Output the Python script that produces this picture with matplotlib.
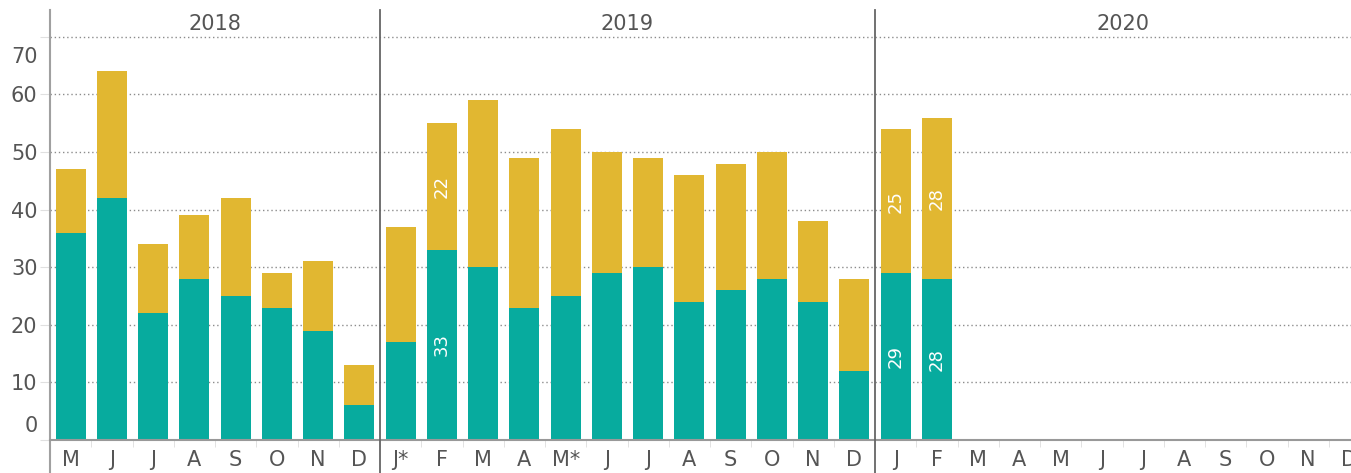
import numpy as np
import matplotlib
matplotlib.use("Agg")
import matplotlib.pyplot as plt
from matplotlib.transforms import blended_transform_factory, ScaledTranslation

# data
years = ["2018", "2019", "2020"]
months_2018 = ["M", "J", "J", "A", "S", "O", "N", "D"]
months_2019 = ["J*", "F", "M", "A", "M*", "J", "J", "A", "S", "O", "N", "D"]
months_2020 = ["J", "F", "M", "A", "M", "J", "J", "A", "S", "O", "N", "D"]

teal_2018 = [36, 42, 22, 28, 25, 23, 19, 6]
gold_2018 = [11, 22, 12, 11, 17, 6, 12, 7]
teal_2019 = [17, 33, 30, 23, 25, 29, 30, 24, 26, 28, 24, 12]
gold_2019 = [20, 22, 29, 26, 29, 21, 19, 22, 22, 22, 14, 16]
teal_2020 = [29, 28]
gold_2020 = [25, 28]

# bars that carry value labels: (year, month index)
labelled = [("2019", 1), ("2020", 0), ("2020", 1)]

TEAL = "#07ab9e"
GOLD = "#e1b731"
TXT = "#555555"

groups = [(months_2018, teal_2018, gold_2018),
          (months_2019, teal_2019, gold_2019),
          (months_2020, teal_2020, gold_2020)]

W, H = 1351, 473
fig = plt.figure(figsize=(W / 100, H / 100), dpi=100)
slot = 41.25
nslots = sum(len(g[0]) for g in groups)
ax = fig.add_axes([50 / W, 33 / H, nslots * slot / W, 406 / H])

xlabels = []
starts = []
pos = 0
for yr, (months, teal, gold) in zip(years, groups):
    starts.append(pos)
    x = np.arange(pos, pos + len(teal))
    ax.bar(x, teal, width=0.73, color=TEAL, linewidth=0, zorder=3)
    ax.bar(x, gold, width=0.73, bottom=teal, color=GOLD, linewidth=0, zorder=3)
    for y2, i in labelled:
        if y2 == yr:
            ax.text(pos + i, teal[i] / 2, str(teal[i]), rotation=90, ha="center",
                    va="center", color="white", fontsize=13, zorder=4)
            ax.text(pos + i, teal[i] + gold[i] / 2, str(gold[i]), rotation=90,
                    ha="center", va="center", color="white", fontsize=13, zorder=4)
    xlabels += months
    pos += len(months)
starts.append(pos)

ax.set_xlim(-0.5, nslots - 0.5)
ax.set_ylim(0, 70.5)

ax.set_xticks(np.arange(nslots))
ax.set_xticklabels(xlabels, fontsize=15, color=TXT)
ax.set_xticks(np.arange(nslots) + 0.5, minor=True)
ax.tick_params(axis="x", which="major", length=0, pad=7)
ax.tick_params(axis="x", which="minor", length=5, color="#dddddd")

ax.set_yticks(np.arange(0, 71, 10))
ax.set_yticklabels([str(v) for v in range(0, 71, 10)], fontsize=15, color=TXT)
ax.tick_params(axis="y", length=7, color="#e0e0e0", pad=2)
ax.yaxis.grid(True, linestyle=(0, (1, 2)), color="#8c8c8c", linewidth=1, zorder=0)
ax.set_axisbelow(True)

# end labels pulled inside like the original
for lab in ax.get_yticklabels():
    if lab.get_text() == "70":
        lab.set_transform(lab.get_transform() + ScaledTranslation(0, -0.18, fig.dpi_scale_trans))
    if lab.get_text() == "0":
        lab.set_transform(lab.get_transform() + ScaledTranslation(0, 0.16, fig.dpi_scale_trans))

for s in ["top", "right", "left"]:
    ax.spines[s].set_visible(False)
ax.spines["bottom"].set_color("#999999")
ax.spines["bottom"].set_linewidth(1.5)
ax.spines["bottom"].set_zorder(5)

# panel dividers and year headers
tr = blended_transform_factory(ax.transData, fig.transFigure)
top_y = 1 - 10 / H
ax.plot([-0.5, -0.5], [0, top_y], transform=tr, color="#a0a0a0", lw=1.5, clip_on=False)
for b in starts[1:-1]:
    ax.plot([b - 0.5, b - 0.5], [0, top_y], transform=tr, color="#666666", lw=1.3,
            clip_on=False, zorder=6)
for yr, a, b in zip(years, starts[:-1], starts[1:]):
    ax.text((a + b - 1) / 2, 1 - 24 / H, yr, transform=tr, ha="center", va="center",
            fontsize=15, color=TXT)

fig.savefig("out.png", dpi=100)
